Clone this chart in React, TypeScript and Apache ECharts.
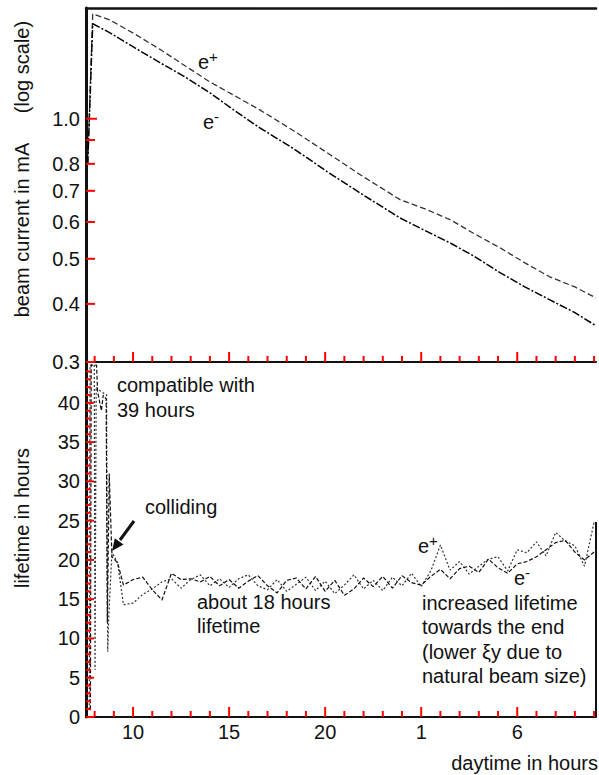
import React, { useEffect, useRef } from 'react';
import * as echarts from 'echarts';

const FONT = "'Liberation Sans', Arial, Helvetica, sans-serif";
const INK = '#111111';
const TICK = '#ff0000';

// ---- top panel: beam current (mA), log scale ----
const beamTime = [7.64, 7.9, 8.8, 10.1, 11.4, 12.7, 14.0, 15.3, 16.6, 18.4, 20.2, 22.0, 23.9, 25.2, 26.5, 27.8, 29.1, 30.4, 31.7, 33.0, 34.1];
const beamPlus = [0.8, 1.68, 1.63, 1.52, 1.41, 1.3, 1.2, 1.12, 1.045, 0.94, 0.84, 0.75, 0.67, 0.64, 0.607, 0.565, 0.528, 0.49, 0.457, 0.435, 0.412];
const beamMinus = [0.8, 1.6, 1.53, 1.42, 1.32, 1.23, 1.137, 1.04, 0.956, 0.86, 0.765, 0.685, 0.612, 0.575, 0.541, 0.505, 0.467, 0.435, 0.408, 0.383, 0.359];
const beamLabelValues = [0.3, 0.4, 0.5, 0.6, 0.7, 0.8, 1.0];
const beamTickValues = [0.3, 0.4, 0.5, 0.6, 0.7, 0.8, 0.9, 1.0];
const beamMin = 0.3;
const beamMax = 1.73;

// ---- bottom panel: lifetime in hours ----
const lifeTimePlus = [7.72, 7.76, 7.98, 8.02, 8.08, 8.3, 8.62, 8.68, 8.74, 8.9, 9.2, 9.5,
  10.0, 10.5, 11.0, 11.5, 12.0, 12.5, 13.0, 13.5, 14.0, 14.5,
  15.0, 15.5, 16.0, 16.5, 17.0, 17.5, 18.0, 18.5, 19.0, 19.5,
  20.0, 20.5, 21.0, 21.5, 22.0, 22.5, 23.0, 23.5, 24.0, 24.5,
  25.0, 25.5, 26.0, 26.5, 27.0, 27.5, 28.0, 28.5, 29.0, 29.5,
  30.0, 30.5, 31.0, 31.5, 32.0, 32.5, 33.0, 33.5, 34.0];
const lifePlus = [1, 44.8, 44.8, 6, 42, 41.5, 41, 8.3, 13, 21, 19.6, 14.3,
  14.5, 15.6, 16.3, 17.2, 17.6, 16.4, 17.5, 18.1, 16.7, 17.6,
  16.5, 17.6, 18.1, 16.7, 16.2, 17.5, 16.0, 16.9, 17.8, 16.1,
  17.3, 15.7, 16.8, 18.1, 16.3, 17.4, 16.1, 17.8, 16.7, 18.3,
  16.6, 18.6, 21.9, 18.7, 19.8, 18.2, 19.2, 20.1, 20.4, 18.6,
  21.3, 20.9, 22.3, 20.5, 23.5, 22.4, 21.8, 19.2, 24.8];
const lifeTimeMinus = [7.78, 7.82, 8.1, 8.15, 8.35, 8.45, 8.6, 8.66, 8.76, 8.9, 9.2, 9.5,
  10.0, 10.5, 11.0, 11.5, 12.0, 12.5, 13.0, 13.5, 14.0, 14.5,
  15.0, 15.5, 16.0, 16.5, 17.0, 17.5, 18.0, 18.5, 19.0, 19.5,
  20.0, 20.5, 21.0, 21.5, 22.0, 22.5, 23.0, 23.5, 24.0, 24.5,
  25.0, 25.5, 26.0, 26.5, 27.0, 27.5, 28.0, 28.5, 29.0, 29.5,
  30.0, 30.5, 31.0, 31.5, 32.0, 32.5, 33.0, 33.5, 34.0];
const lifeMinus = [1, 44.8, 44.8, 41.5, 39, 41, 40.5, 12, 31, 20.4, 19.6, 16.8,
  17.5, 17.8, 16.2, 14.9, 18.3, 17.5, 17.6, 17.2, 17.9, 16.7,
  17.5, 16.4, 17.3, 18.0, 16.7, 15.8, 17.4, 17.7, 16.3, 17.9,
  16.0, 17.4, 15.5, 16.3, 17.7, 16.6, 17.9, 16.4, 18.0, 17.1,
  16.8, 17.9, 18.8, 17.6, 18.9, 19.2, 18.4, 20.1, 19.0, 18.3,
  19.5, 19.8, 20.4, 21.3, 22.2, 22.5, 21.0, 20.0, 21.0];
const lifeLabelValues = [0, 5, 10, 15, 20, 25, 30, 35, 40];
const lifeMinorTicks = [1, 2, 3, 4, 6, 7, 8, 9, 11, 12, 13, 14, 16, 17, 18, 19, 21, 22, 23, 24, 26, 27, 28, 29, 31, 32, 33, 34, 36, 37, 38, 39, 41, 42, 43, 44];
const lifeMin = 0;
const lifeMax = 45.2;

// ---- shared time axis (hours since midnight of first day) ----
const hourMinorTicks = [8, 9, 11, 12, 13, 14, 16, 17, 18, 19, 21, 22, 23, 24, 26, 27, 28, 29, 31, 32, 33, 34];
const hourMajorTicks = [10, 15, 20, 25, 30];
const hourLabels = ['10', '15', '20', '1', '6'];
const hourMin = 7.55;
const hourMax = 34.1;

const log10 = (v: number) => Math.log10(v);

function App() {
  const ref = useRef<HTMLDivElement>(null);

  useEffect(() => {
    if (!ref.current) return;
    const chart = echarts.init(ref.current, null, { renderer: 'svg' });

    const labelStyle = { fontFamily: FONT, fontSize: 20, color: INK };

    const xb = (g: number) => ({ type: 'value', gridIndex: g, min: hourMin, max: hourMax, splitLine: { show: false } });

    const xAxis = [
      { ...xb(0), position: 'bottom',
        axisLine: { show: true, onZero: false, lineStyle: { color: INK, width: 2 } },
        axisTick: { show: false },
        axisLabel: { show: false } },
      { ...xb(0), position: 'top',
        axisLine: { show: true, onZero: false, lineStyle: { color: INK, width: 2.5 } },
        axisTick: { show: false }, axisLabel: { show: false } },
      { ...xb(1), position: 'bottom',
        axisLine: { show: true, onZero: false, lineStyle: { color: INK, width: 2 } },
        axisTick: { show: false },
        axisLabel: {
          show: true, ...labelStyle, margin: 5, customValues: hourMajorTicks,
          formatter: (v: number) => {
            const i = hourMajorTicks.findIndex((h) => Math.abs(h - v) < 1e-6);
            return i >= 0 ? hourLabels[i] : '';
          },
        } },
    ];

    const yAxis = [
      { type: 'value', gridIndex: 0, position: 'left', min: log10(beamMin), max: log10(beamMax),
        splitLine: { show: false }, axisLine: { show: true, onZero: false, lineStyle: { color: INK, width: 3 } },
        axisTick: { show: false },
        axisLabel: { show: true, ...labelStyle, margin: 6, customValues: beamLabelValues.map(log10),
          formatter: (v: number) => Math.pow(10, v).toFixed(1) } },
      { type: 'value', gridIndex: 1, position: 'left', min: lifeMin, max: lifeMax,
        splitLine: { show: false }, axisLine: { show: true, onZero: false, lineStyle: { color: INK, width: 3 } },
        axisTick: { show: false },
        axisLabel: { show: true, ...labelStyle, margin: 6, customValues: lifeLabelValues } },
    ];

    const pairs = (xs: number[], ys: number[], f?: (v: number) => number) =>
      xs.map((x, i) => [x, f ? f(ys[i]) : ys[i]]);

    const topTicks = [
      ...hourMinorTicks.map((h) => [h, log10(beamMin), 6, 0]),
      ...hourMajorTicks.map((h) => [h, log10(beamMin), 10, 0]),
      ...beamTickValues.map((v) => [hourMin, log10(v), v === 1 ? 11 : 9, 1]),
    ];
    const bottomTicks = [
      ...hourMinorTicks.map((h) => [h, lifeMin, 6, 0]),
      ...hourMajorTicks.map((h) => [h, lifeMin, 10, 0]),
      ...lifeLabelValues.map((v) => [hourMin, v, 8, 1]),
      ...lifeMinorTicks.map((v) => [hourMin, v, 5, 1]),
    ];
    const renderTick = (_params: any, api: any) => {
      const p = api.coord([api.value(0), api.value(1)]);
      const len = api.value(2);
      const o = api.value(3);
      const shape = o === 0
        ? { x1: p[0], y1: p[1], x2: p[0], y2: p[1] - len }
        : { x1: p[0], y1: p[1], x2: p[0] + len, y2: p[1] };
      return { type: 'line', shape, style: { stroke: TICK, lineWidth: 2 } };
    };

    const series = [
      { name: 'e+ current', type: 'line', xAxisIndex: 0, yAxisIndex: 0, showSymbol: false, symbol: 'none',
        data: pairs(beamTime, beamPlus, log10), lineStyle: { color: '#333', width: 1.3, type: [6, 3] } },
      { name: 'e- current', type: 'line', xAxisIndex: 0, yAxisIndex: 0, showSymbol: false, symbol: 'none',
        data: pairs(beamTime, beamMinus, log10), lineStyle: { color: '#000', width: 1.5, type: [8, 2, 2, 2] } },
      { name: 'e+ lifetime', type: 'line', xAxisIndex: 2, yAxisIndex: 1, showSymbol: false, symbol: 'none',
        data: pairs(lifeTimePlus, lifePlus), lineStyle: { color: '#333', width: 1.2, type: [2, 2] } },
      { name: 'e- lifetime', type: 'line', xAxisIndex: 2, yAxisIndex: 1, showSymbol: false, symbol: 'none',
        data: pairs(lifeTimeMinus, lifeMinus), lineStyle: { color: '#111', width: 1.2, type: [4, 2] } },
      { name: 'ticks top', type: 'custom', xAxisIndex: 0, yAxisIndex: 0, silent: true, clip: false,
        renderItem: renderTick, data: topTicks, z: 6 },
      { name: 'ticks bottom', type: 'custom', xAxisIndex: 2, yAxisIndex: 1, silent: true, clip: false,
        renderItem: renderTick, data: bottomTicks, z: 6 },
    ];

    const txt = (text: string, x: number, y: number, align = 'left', rotation = 0) => ({
      type: 'text', x, y, rotation, silent: true, z: 100,
      style: { text, font: `20px ${FONT}`, fill: INK, align, textAlign: align, verticalAlign: 'middle', textVerticalAlign: 'middle' },
    });
    const charge = (sign: string, x: number, y: number) => ({
      type: 'text', x, y, silent: true, z: 100,
      style: {
        text: `{b|e}{s|${sign}}`, fill: INK, verticalAlign: 'middle', textVerticalAlign: 'middle',
        rich: {
          b: { fontFamily: FONT, fontSize: 20, fill: INK },
          s: { fontFamily: FONT, fontSize: 15, fill: INK, padding: [0, 0, 12, 0] },
        },
      },
    });

    const graphic = [
      txt('beam current in mA', 22, 230, 'center', Math.PI / 2),
      txt('(log scale)', 22, 67, 'center', Math.PI / 2),
      txt('lifetime in hours', 22, 518, 'center', Math.PI / 2),
      txt('daytime in hours', 598, 763, 'right'),
      txt('compatible with', 117, 385),
      txt('39 hours', 117, 410),
      txt('colliding', 145, 507),
      txt('about 18 hours', 197, 602),
      txt('lifetime', 197, 626),
      txt('increased lifetime', 422, 603),
      txt('towards the end', 422, 627),
      txt('(lower ξy due to', 422, 652),
      txt('natural beam size)', 422, 676),
      charge('+', 198, 62),
      charge('-', 203, 122),
      charge('+', 418, 546),
      charge('-', 514, 578),
      { type: 'line', silent: true, z: 100, shape: { x1: 134, y1: 521, x2: 120, y2: 540 }, style: { stroke: INK, lineWidth: 3 } },
      { type: 'polygon', silent: true, z: 100, shape: { points: [[112, 551], [123.5, 544.5], [114.8, 538.2]] }, style: { fill: INK } },
      { type: 'line', silent: true, z: 100, shape: { x1: 596, y1: 522, x2: 596, y2: 717 }, style: { stroke: INK, lineWidth: 2 } },
    ];

    chart.setOption({
      animation: false,
      backgroundColor: '#ffffff',
      textStyle: { fontFamily: FONT },
      grid: [
        { left: 86, top: 8, width: 510, height: 354 },
        { left: 86, top: 362, width: 510, height: 355 },
      ],
      xAxis,
      yAxis,
      series,
      graphic,
    } as any);

    return () => chart.dispose();
  }, []);

  return (
    <div
      ref={ref}
      style={{ position: 'fixed', left: 0, top: 0, width: 599, height: 775, background: '#fff' }}
    />
  );
}

export default App;
